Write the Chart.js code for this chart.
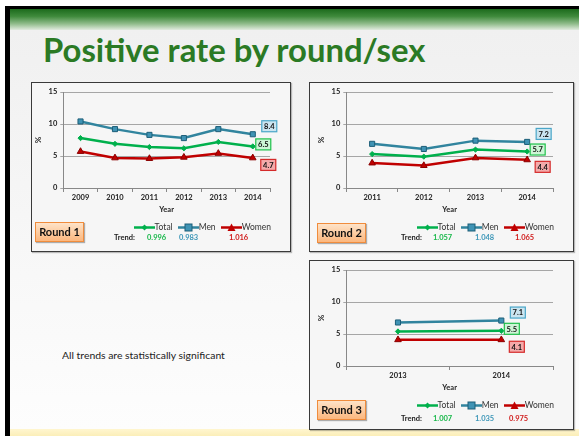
<!DOCTYPE html>
<html>
<head>
<meta charset="utf-8">
<script src="https://cdn.jsdelivr.net/npm/chart.js@4.4.1/dist/chart.umd.min.js"></script>
<style>
  body { margin: 0; width: 579px; height: 436px; overflow: hidden; background: #fff; position: relative; font-family: Lato, sans-serif; }
  .blk { position: absolute; background: #000; }
  #band { position: absolute; left: 10px; top: 9px; width: 569px; height: 21px;
    background: linear-gradient(#1c6b1c, #3f8a3c 35%, #8fbb8a 70%, #e1ebdf); }
  #slide { position: absolute; left: 10px; top: 30px; width: 569px; height: 399px; background: linear-gradient(#f0f0f0, #fdfdfd); }
  #foot { position: absolute; left: 10px; top: 429px; width: 569px; height: 7px; background: linear-gradient(#fff6d0, #fbeeb8); }
  #title { position: absolute; left: 43px; top: 33px; font: bold 33px/33px Lato, sans-serif; color: #2b7a24; white-space: nowrap; transform-origin: 0 0; }
  #note { position: absolute; left: 62px; top: 350px; font: 9px/12px Lato, sans-serif; color: #222; white-space: nowrap; transform-origin: 0 0; }
  .panel { position: absolute; box-sizing: border-box; border: 1.5px solid #3a3a3a; background: #f6f6f6; box-shadow: 1px 1px 1px rgba(0,0,0,0.25); }
  .panel canvas.chart { position: absolute; left: 0; top: 0; }
  .round { position: absolute; box-sizing: border-box; width: 49px; height: 20px; border: 1px solid #f08c3c;
    background: linear-gradient(#fee3c8, #fbb77e); font: bold 11px/18px Lato, sans-serif; color: #111; text-align: center;
    box-shadow: 1px 1px 1px rgba(0,0,0,0.3); }
  .trend { position: absolute; font: bold 7.5px/10px Lato, sans-serif; white-space: nowrap; }
  .legend { position: absolute; right: 19px; display: flex; align-items: center; font: 8.5px/10px Lato, sans-serif; color: #333; white-space: nowrap; }
  .legend span { margin-right: 5px; }
  .legend span:last-child { margin-right: 0; }
  .legend canvas { margin-right: 0; }
</style>
</head>
<body>
<div class="blk" style="left:5px;top:6px;width:574px;height:3px"></div>
<div class="blk" style="left:5px;top:6px;width:5px;height:430px"></div>
<div id="band"></div>
<div id="slide"></div>
<div id="foot"></div>
<div id="title">Positive rate by round/sex</div>
<div id="note">All trends are statistically significant</div>

<div class="panel" id="p1" style="left:31px;top:82px;width:260px;height:170px">
  <canvas class="chart" id="c1"></canvas>
  <div class="round" style="left:3px;top:139px">Round 1</div>
</div>
<div class="panel" id="p2" style="left:309px;top:82px;width:265px;height:170px">
  <canvas class="chart" id="c2"></canvas>
  <div class="round" style="left:7px;top:140px">Round 2</div>
</div>
<div class="panel" id="p3" style="left:309px;top:260px;width:265px;height:170px">
  <canvas class="chart" id="c3"></canvas>
  <div class="round" style="left:7px;top:139px">Round 3</div>
</div>

<script>
// round 1
const years1 = ['2009', '2010', '2011', '2012', '2013', '2014'];
const total1 = [7.8, 6.9, 6.4, 6.2, 7.2, 6.5];
const men1 = [10.4, 9.2, 8.3, 7.8, 9.2, 8.4];
const women1 = [5.7, 4.7, 4.6, 4.8, 5.4, 4.7];
const trend1 = ['0.996', '0.983', '1.016'];

// round 2
const years2 = ['2011', '2012', '2013', '2014'];
const total2 = [5.3, 4.9, 6.0, 5.7];
const men2 = [6.9, 6.1, 7.4, 7.2];
const women2 = [3.9, 3.5, 4.7, 4.4];
const trend2 = ['1.057', '1.048', '1.065'];

// round 3
const years3 = ['2013', '2014'];
const total3 = [5.4, 5.5];
const men3 = [6.8, 7.1];
const women3 = [4.1, 4.1];
const trend3 = ['1.007', '1.035', '0.975'];

const seriesNames = ['Total', 'Men', 'Women'];
const yTicks = [0, 5, 10, 15];

const green = '#00b04c', blue = '#31849e', red = '#c00000';
const styles = [
  { color: green, point: 'rectRot', radius: 2.6, fill: green, edge: green, text: '#18b84a',
    box: { fill: '#cdf5d6', border: '#1fc04a', dx: 3, dy: -2 } },
  { color: blue, point: 'rect', radius: 3.6, fill: '#3f93b4', edge: '#1d5e78', text: '#3e97b8',
    box: { fill: '#cbe5f0', border: '#4aa6c8', dx: 9, dy: -8 } },
  { color: red, point: 'triangle', radius: 3.8, fill: red, edge: '#8a0000', text: '#d01c1c',
    box: { fill: '#f4aaaa', border: '#d42a2a', dx: 8, dy: 7 } }
];

// line + marker picture for a legend entry
function legendIcon(s) {
  const c = document.createElement('canvas');
  c.width = 21; c.height = 9;
  const g = c.getContext('2d');
  g.strokeStyle = s.color; g.lineWidth = 2.5;
  g.beginPath(); g.moveTo(0, 4.5); g.lineTo(21, 4.5); g.stroke();
  g.fillStyle = s.fill;
  if (s.point === 'rect') { g.fillRect(7, 1, 7, 7); g.strokeStyle = s.edge; g.lineWidth = 1; g.strokeRect(7, 1, 7, 7); }
  else if (s.point === 'triangle') { g.beginPath(); g.moveTo(10.5, 0.5); g.lineTo(14.5, 8); g.lineTo(6.5, 8); g.closePath(); g.fill(); }
  else { g.beginPath(); g.moveTo(10.5, 1.5); g.lineTo(13.5, 4.5); g.lineTo(10.5, 7.5); g.lineTo(7.5, 4.5); g.closePath(); g.fill(); }
  return c;
}

// value box next to the last point of each series
const endLabels = {
  id: 'endLabels',
  afterDatasetsDraw(chart) {
    const ctx = chart.ctx;
    chart.data.datasets.forEach((ds, i) => {
      const meta = chart.getDatasetMeta(i);
      const pt = meta.data[meta.data.length - 1];
      const b = styles[i].box;
      const w = 15, h = 11;
      const x = pt.x + b.dx, y = pt.y + b.dy - h / 2;
      ctx.save();
      ctx.fillStyle = b.fill; ctx.strokeStyle = b.border; ctx.lineWidth = 1.2;
      ctx.fillRect(x, y, w, h); ctx.strokeRect(x, y, w, h);
      ctx.fillStyle = '#111'; ctx.font = 'bold 7.5px Lato';
      ctx.textAlign = 'center'; ctx.textBaseline = 'middle';
      ctx.fillText(ds.data[ds.data.length - 1].toFixed(1), x + w / 2, y + h / 2 + 0.5);
      ctx.restore();
    });
  }
};

function makeChart(id, labels, total, men, women, padLeft) {
  const el = document.getElementById(id);
  const panel = el.parentElement;
  el.width = panel.clientWidth; el.height = panel.clientHeight;
  const sets = [total, men, women].map((d, i) => ({
    label: seriesNames[i],
    data: d,
    borderColor: styles[i].color,
    borderWidth: 2.5,
    pointStyle: styles[i].point,
    pointRadius: styles[i].radius,
    pointBackgroundColor: styles[i].fill,
    pointBorderColor: styles[i].edge,
    pointBorderWidth: 1,
    tension: 0
  }));
  return new Chart(el, {
    type: 'line',
    data: { labels: labels, datasets: sets },
    plugins: [endLabels],
    options: {
      responsive: false,
      animation: false,
      layout: { padding: { top: 9, right: 20, bottom: 37, left: padLeft } },
      plugins: {
        tooltip: { enabled: false },
        legend: { display: false }
      },
      scales: {
        x: {
          offset: true,
          grid: { display: true, offset: true, drawOnChartArea: false, tickLength: 4, color: '#888' },
          border: { color: '#888', width: 1 },
          ticks: { color: '#222', font: { family: 'Lato', size: 7.5, weight: 'bold' }, padding: 1, maxRotation: 0 },
          title: { display: true, text: 'Year', color: '#222', font: { family: 'Lato', size: 7.5, weight: 'bold' }, padding: { top: 2, bottom: 0 } }
        },
        y: {
          min: 0, max: 15,
          afterBuildTicks: (s) => { s.ticks = yTicks.map(v => ({ value: v })); },
          grid: { color: '#a6a6a6', lineWidth: 1, tickLength: 3 },
          border: { color: '#888', width: 1 },
          ticks: { color: '#222', font: { family: 'Lato', size: 7.5, weight: 'bold' }, padding: 3 },
          title: { display: true, text: '%', color: '#222', font: { family: 'Lato', size: 8, weight: 'bold' }, padding: 2 }
        }
      }
    }
  });
}

function addLegend(panelId, top) {
  const panel = document.getElementById(panelId);
  const lg = document.createElement('div');
  lg.className = 'legend';
  lg.style.top = top + 'px';
  seriesNames.forEach((name, i) => {
    lg.appendChild(legendIcon(styles[i]));
    const t = document.createElement('span');
    t.textContent = name;
    lg.appendChild(t);
  });
  panel.appendChild(lg);
}

function addTrend(panelId, values, xs, top) {
  const panel = document.getElementById(panelId);
  ['Trend:'].concat(values).forEach((v, i) => {
    const s = document.createElement('div');
    s.className = 'trend';
    s.textContent = v;
    s.style.color = i === 0 ? '#222' : styles[i - 1].text;
    s.style.left = xs[i] + 'px';
    s.style.top = top + 'px';
    panel.appendChild(s);
  });
}

makeChart('c1', years1, total1, men1, women1, 0);
makeChart('c2', years2, total2, men2, women2, 5);
makeChart('c3', years3, total3, men3, women3, 5);
addLegend('p1', 139);
addLegend('p2', 139);
addLegend('p3', 139);
addTrend('p1', trend1, [82, 115, 147, 197], 150);
addTrend('p2', trend2, [91, 123, 165, 205], 150);
addTrend('p3', trend3, [91, 123, 165, 199], 153);

// fit the slide texts to their width in the picture
function fitWidth(id, w) {
  const el = document.getElementById(id);
  el.style.transform = 'scaleX(' + (w / el.offsetWidth) + ')';
}
fitWidth('title', 382);
fitWidth('note', 163);
</script>
</body>
</html>
